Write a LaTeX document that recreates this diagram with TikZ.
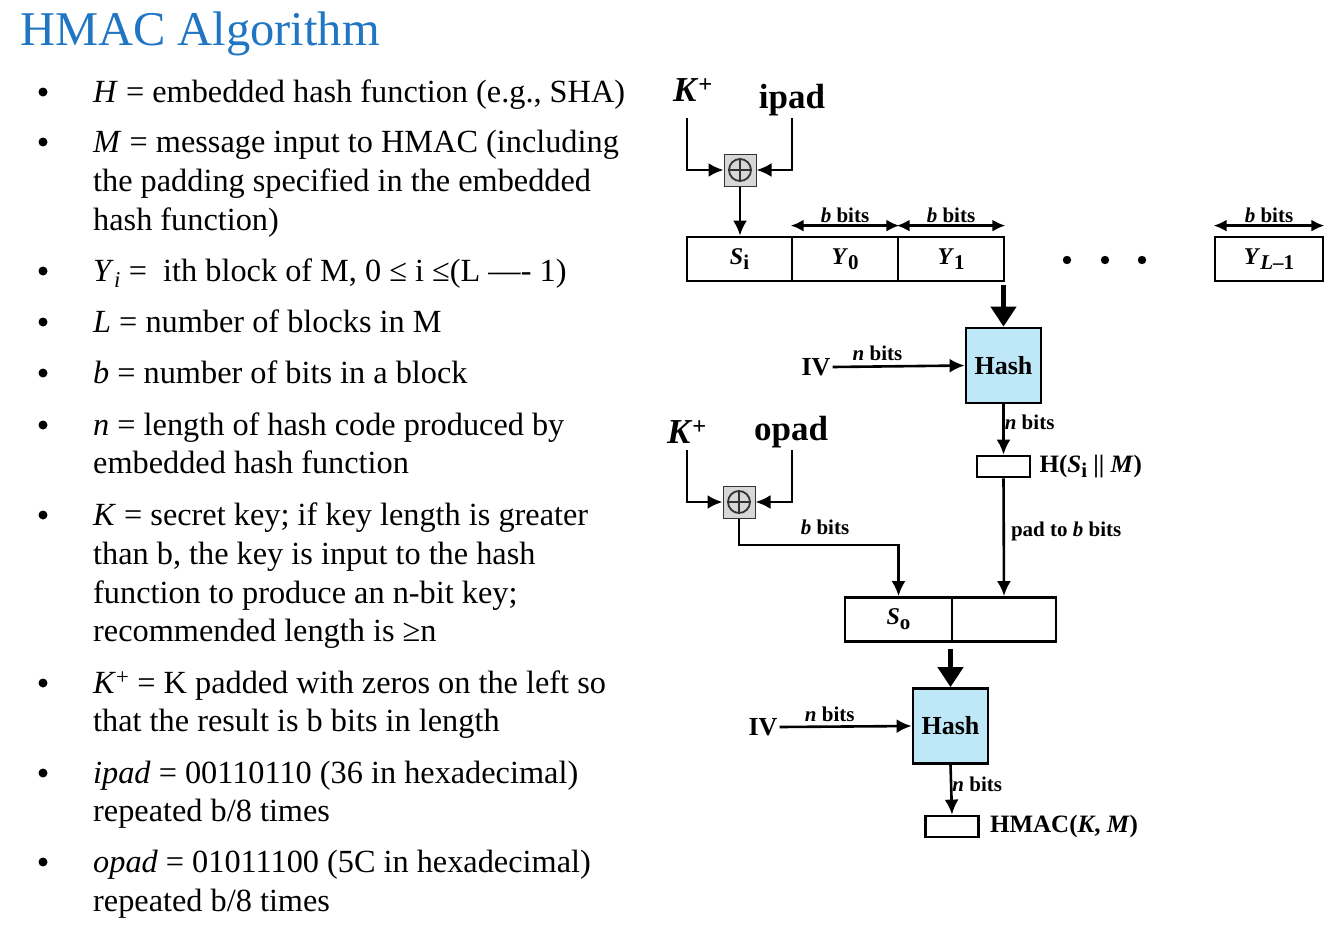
\documentclass[tikz,border=0pt]{standalone}
\usepackage{fontspec}
\setmainfont{Liberation Serif}
\usetikzlibrary{arrows.meta,calc}

\definecolor{titleblue}{RGB}{33,118,196}
\definecolor{hashblue}{RGB}{190,232,248}
\definecolor{xorgray}{RGB}{215,215,215}

\newcommand{\bodysize}{\fontsize{32.3}{38}\selectfont}
% large, lowered subscript used inside the block labels
\newcommand{\lowsub}[1]{\raisebox{-5pt}{\fontsize{21}{21}\selectfont #1}}

\tikzset{
  title/.style={anchor=mid west, inner sep=0pt, text=titleblue, font=\fontsize{48.5}{56}\selectfont},
  body/.style={anchor=mid west, inner sep=0pt, font=\bodysize},
  blk/.style={draw, line width=2.8pt, minimum height=44pt, inner sep=0pt, font=\fontsize{24}{26}\selectfont\bfseries},
  hashbox/.style={draw, line width=2.8pt, fill=hashblue, minimum width=75pt, minimum height=75pt, inner sep=0pt, font=\fontsize{26}{28}\selectfont\bfseries},
  outbox/.style={draw, line width=2.8pt, minimum width=53pt, minimum height=21pt, inner sep=0pt},
  xorbox/.style={draw=black!80, line width=1pt, fill=xorgray, minimum size=32pt, inner sep=0pt,
    path picture={
      \draw[line width=1.8pt] (path picture bounding box.center) circle (11pt);
      \draw[line width=1.8pt] ([xshift=-11pt]path picture bounding box.center) -- ([xshift=11pt]path picture bounding box.center);
      \draw[line width=1.8pt] ([yshift=-11pt]path picture bounding box.center) -- ([yshift=11pt]path picture bounding box.center);
    }},
  bigtxt/.style={font=\fontsize{35}{40}\selectfont\bfseries, inner sep=0pt},
  ivtxt/.style={font=\fontsize{26}{30}\selectfont\bfseries, inner sep=2pt},
  lbl/.style={font=\fontsize{21}{23}\selectfont\bfseries, inner sep=2pt},
  outtxt/.style={font=\fontsize{25}{28}\selectfont\bfseries, inner sep=0pt, anchor=west},
  wire/.style={line width=2.6pt},
  arr/.style={wire, -{Latex[length=15pt,width=14pt]}},
  dblarr/.style={wire, {Latex[length=13pt,width=12pt]}-{Latex[length=13pt,width=12pt]}},
  fatarr/.style={line width=4.5pt, -{Triangle[length=20pt,width=25pt]}},
}

\begin{document}
\begin{tikzpicture}[x=1pt,y=-1pt]
\useasboundingbox (0,0) rectangle (1330,932);

% ---------- heading and definitions ----------
\node[title] (ttl) at (20,43) {HMAC Algorithm};

\foreach \by [count=\k] in {92,142,271,322,373,425,515,683,773,862}
  \fill (43,\by) circle (4.5pt) coordinate (bul\k);

\begin{scope}[yshift=-8pt]
\node[body] (t1)  at (93,92)  {\textit{H} = embedded hash function (e.g., SHA)};
\node[body] (t2a) at (93,142) {\textit{M} = message input to HMAC (including};
\node[body] (t2b) at (93,181) {the padding specified in the embedded};
\node[body] (t2c) at (93,220) {hash function)};
\node[body] (t3)  at (93,271) {\textit{Y}\textsubscript{\textit{i}} =\ \ ith block of M, 0 ≤ i ≤(L —- 1)};
\node[body] (t4)  at (93,322) {\textit{L} = number of blocks in M};
\node[body] (t5)  at (93,373) {\textit{b} = number of bits in a block};
\node[body] (t6a) at (93,425) {\textit{n} = length of hash code produced by};
\node[body] (t6b) at (93,463) {embedded hash function};
\node[body] (t7a) at (93,515) {\textit{K} = secret key; if key length is greater};
\node[body] (t7b) at (93,554) {than b, the key is input to the hash};
\node[body] (t7c) at (93,593) {function to produce an n-bit key;};
\node[body] (t7d) at (93,631) {recommended length is ≥n};
\node[body] (t8a) at (93,683) {\textit{K}\textsuperscript{+} = K padded with zeros on the left so};
\node[body] (t8b) at (93,721) {that the result is b bits in length};
\node[body] (t9a) at (93,773) {\textit{ipad} = 00110110 (36 in hexadecimal)};
\node[body] (t9b) at (93,811) {repeated b/8 times};
\node[body] (t10a) at (93,862) {\textit{opad} = 01011100 (5C in hexadecimal)};
\node[body] (t10b) at (93,901) {repeated b/8 times};
\end{scope}

% ---------- inner stage ----------
\node[bigtxt] (kp1) at (693,90) {\textit{K}\textsuperscript{+}};
\node[bigtxt] (ipad) at (792,100) {ipad};
\node[xorbox] (xor1) at (740,170) {};

\node[blk, minimum width=105pt] (si) at (739.5,259) {\textit{S}\lowsub{i}};
\node[blk, minimum width=106pt] (y0) at (845,259) {\textit{Y}\lowsub{0}};
\node[blk, minimum width=106pt] (y1) at (951,259) {\textit{Y}\lowsub{1}};
\node[blk, minimum width=108pt] (yl) at (1269,259) {\textit{Y}\lowsub{\textit{L}–1}};

\coordinate (k1top) at (687,118);
\coordinate (i1top) at (792,118);
\draw[arr] (k1top) |- (xor1.west);
\draw[arr] (i1top) |- (xor1.east);
\draw[arr] (xor1.south) -- (xor1.south |- si.north);

\draw[dblarr] ([yshift=10pt]y0.north west) -- node[lbl, above] {\textit{b} bits} ([yshift=10pt]y0.north east);
\draw[dblarr] ([yshift=10pt]y1.north west) -- node[lbl, above] {\textit{b} bits} ([yshift=10pt]y1.north east);
\draw[dblarr] ([yshift=10pt]yl.north west) -- node[lbl, above] {\textit{b} bits} ([yshift=10pt]yl.north east);

\foreach \dx [count=\k] in {1067,1105,1142}
  \fill (\dx,260) circle (4.2pt) coordinate (dot\k);

\node[hashbox] (hash1) at (1003.5,365.5) {Hash};
\draw[fatarr] ([yshift=-3pt]hash1.north |- y1.south) -- (hash1.north);

\node[ivtxt] (iv1) at (816,367) {IV};
\draw[arr] (iv1.east) -- node[lbl, above, pos=0.34, yshift=2pt] {\textit{n} bits} (hash1.west);

\node[outbox] (h1) at (1003.5,466.5) {};
\draw[arr] (hash1.south) -- node[lbl, right, pos=0.35, xshift=-2pt] {\textit{n} bits} (h1.north);
\node[outtxt] (h1txt) at ([xshift=8pt]h1.east) {H(\textit{S}\lowsub{i} || \textit{M})};

% ---------- outer stage ----------
\node[bigtxt] (kp2) at (687,432) {\textit{K}\textsuperscript{+}};
\node[bigtxt] (opad) at (791,432) {opad};
\node[xorbox] (xor2) at (739,502) {};

\coordinate (k2top) at (687,450);
\coordinate (o2top) at (792,450);
\draw[arr] (k2top) |- (xor2.west);
\draw[arr] (o2top) |- (xor2.east);

\node[blk, minimum width=107pt] (so1) at (898.5,619.5) {\textit{S}\lowsub{o}};
\node[blk, minimum width=104pt] (so2) at (1004,619.5) {};

\coordinate (bend2) at (739,545);
\draw[arr] (xor2.south) -- (bend2) -| (so1.north);
\node[lbl] (bb2) at (825,527) {\textit{b} bits};

\draw[arr] (h1.south) -- node[lbl, right, pos=0.45, xshift=4pt] {pad to \textit{b} bits} (so2.north);

\node[hashbox] (hash2) at (950.5,726) {Hash};
\draw[fatarr] ([yshift=-6pt]hash2.north |- so1.south) -- (hash2.north);

\node[ivtxt] (iv2) at (763,727) {IV};
\draw[arr] (iv2.east) -- node[lbl, above, pos=0.38, yshift=2pt] {\textit{n} bits} (hash2.west);

\node[outbox] (out) at (952,826.5) {};
\draw[arr] (hash2.south) -- node[lbl, right, pos=0.4, xshift=-2pt] {\textit{n} bits} (out.north);
\node[outtxt] (outtxt) at ([xshift=10pt]out.east) {HMAC(\textit{K}, \textit{M})};

\end{tikzpicture}
\end{document}
